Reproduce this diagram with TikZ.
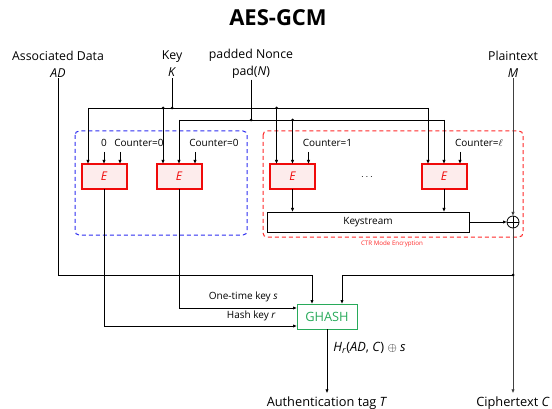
\documentclass[tikz,border=0pt]{standalone}
\usepackage{fontspec}
\setmainfont{Open Sans}
\usetikzlibrary{arrows.meta,positioning}
\definecolor{ered}{RGB}{240,10,10}
\definecolor{epink}{RGB}{253,236,236}
\definecolor{gcmgreen}{RGB}{40,170,90}
\definecolor{ctrred}{RGB}{255,40,40}
\definecolor{adblue}{RGB}{45,45,240}

\begin{document}
\begin{tikzpicture}[x=1pt,y=-1pt,line width=0.8pt,
 every node/.style={outer sep=0pt,font=\fontsize{10}{12}\selectfont},
 arr/.style={-{Latex[length=4pt,width=3.4pt]}},
 inp/.style={align=center,inner sep=1pt,font=\fontsize{12.3}{17}\selectfont},
 ebox/.style={draw=ered,fill=epink,line width=2pt,minimum width=45pt,
 minimum height=25pt,text=ered,font=\fontsize{12}{14}\selectfont\itshape},
 frame/.style={dashed,dash pattern=on 4pt off 3pt,rounded corners=4pt,line width=1pt},
 xorn/.style={draw,circle,minimum size=12pt,inner sep=0pt},
 jdot/.style={circle,fill,inner sep=0pt,minimum size=3pt},
 big/.style={font=\fontsize{12.8}{15}\selectfont}]

  \useasboundingbox (0,0) rectangle (552,409);

  \node[font=\fontsize{22}{26}\selectfont\bfseries] (title) at (278,18) {AES-GCM};

  % inputs
  \node[inp] (ad) at (58,64) {Associated Data\\\textit{AD}};
  \node[inp] (key) at (172,64) {Key\\\textit{K}};
  \node[inp] (nonce) at (251,64) {padded Nonce\\pad(\textit{N})};
  \node[inp] (pt) at (513,64) {Plaintext\\\textit{M}};

  % frames
  \draw[frame,adblue] (75,131) rectangle (247,235);
  \draw[frame,ctrred] (263,131) rectangle (523,237);
  \node[text=ctrred,font=\fontsize{6.2}{7}\selectfont] (ctr) at (392,244) {CTR Mode Encryption};

  % block cipher calls
  \node[ebox] (e1) at (104,176.5) {E};
  \node[ebox] (e2) at (179,176.5) {E};
  \node[ebox] (e3) at (292.5,176.5) {E};
  \node[ebox] (e4) at (444,176.5) {E};
  \node (dots) at (367,177) {$\cdots$};

  \node[draw,minimum width=202pt,minimum height=20pt] (ks) at (368,222) {Keystream};
  \node[xorn] (xor) at (513,222) {};
  \node[draw=gcmgreen,text=gcmgreen,minimum width=60pt,minimum height=25pt,
   big] (ghash) at (327,316.5) {GHASH};

  \node[big] (tag) at (327,403) {Authentication tag \textit{T}};
  \node[big] (ct) at (513,403) {Ciphertext \textit{C}};

  % key and nonce buses
  \coordinate (kbus) at (0,108);
  \coordinate (nbus) at (0,120);
  \coordinate (ctop) at (0,152);
  \coordinate (ctxt) at (0,143);
  \coordinate (tbus) at (0,275);

  \draw (key.south) -- (key.south |- kbus);
  \draw ([xshift=-16pt]e1.north |- kbus) -- ([xshift=-16pt]e4.north |- kbus);
  \draw (nonce.south) -- (nonce.south |- nbus);
  \draw (e2.north |- nbus) -- (e4.north |- nbus);
  \foreach \e in {e1,e2,e3,e4}
  {\draw[arr] ([xshift=-16pt]\e.north |- kbus) -- ([xshift=-16pt]\e.north);}
  \foreach \e in {e2,e3,e4}
  {\draw[arr] (\e.north |- nbus) -- (\e.north);}
  \node[jdot] at (key.south |- kbus) {};
  \node[jdot] at ([xshift=-16pt]e2.north |- kbus) {};
  \node[jdot] at ([xshift=-16pt]e3.north |- kbus) {};
  \node[jdot] at (nonce.south |- nbus) {};
  \node[jdot] at (e3.north |- nbus) {};

  % counters
  \node (zero) at (e1.north |- ctxt) {0};
  \draw[arr] (e1.north |- ctop) -- (e1.north);
  \foreach \e/\c in {e1/0,e2/0,e3/1,e4/$\ell$}
  {\node (c\e) at ([xshift=35pt]\e.north |- ctxt) {Counter=\c};
   \draw[arr] ([xshift=16pt]\e.north |- ctop) -- ([xshift=16pt]\e.north);}

  % keystream and ciphertext
  \draw[arr] (e3.south) -- (e3.south |- ks.north);
  \draw[arr] (e4.south) -- (e4.south |- ks.north);
  \draw[arr] (ks.east) -- (xor.west);
  \draw[arr,line width=1pt,black!75] (pt.south) -- (xor.north);
  \draw (xor.north) -- (xor.south) (xor.west) -- (xor.east);
  \draw[arr,line width=1pt,black!75] (xor.south) -- (ct.north);

  % GHASH inputs
  \draw[arr] (ad.south) |- ([xshift=-15pt]ghash.north |- tbus)
   -- ([xshift=-15pt]ghash.north);
  \draw[arr] (xor.south |- tbus) -- ([xshift=15pt]ghash.north |- tbus)
   -- ([xshift=15pt]ghash.north);
  \node[jdot] at (xor.south |- tbus) {};
  \draw[arr] (e2.south) |- ([yshift=8.5pt]ghash.west);
  \draw[arr] (e1.south) |- ([yshift=-9.5pt]ghash.west);
  \node[anchor=east] (otk) at (281,297) {One-time key \textit{s}};
  \node[anchor=east] (hk) at (279,316) {Hash key \textit{r}};

  \draw[arr] (ghash.south) -- (tag.north)
   node[pos=0.3,right=3pt,big] (hout)
   {\textit{H}\textsubscript{\textit{r}}(\textit{AD}, \textit{C}) $\oplus$ \textit{s}};

\end{tikzpicture}
\end{document}
